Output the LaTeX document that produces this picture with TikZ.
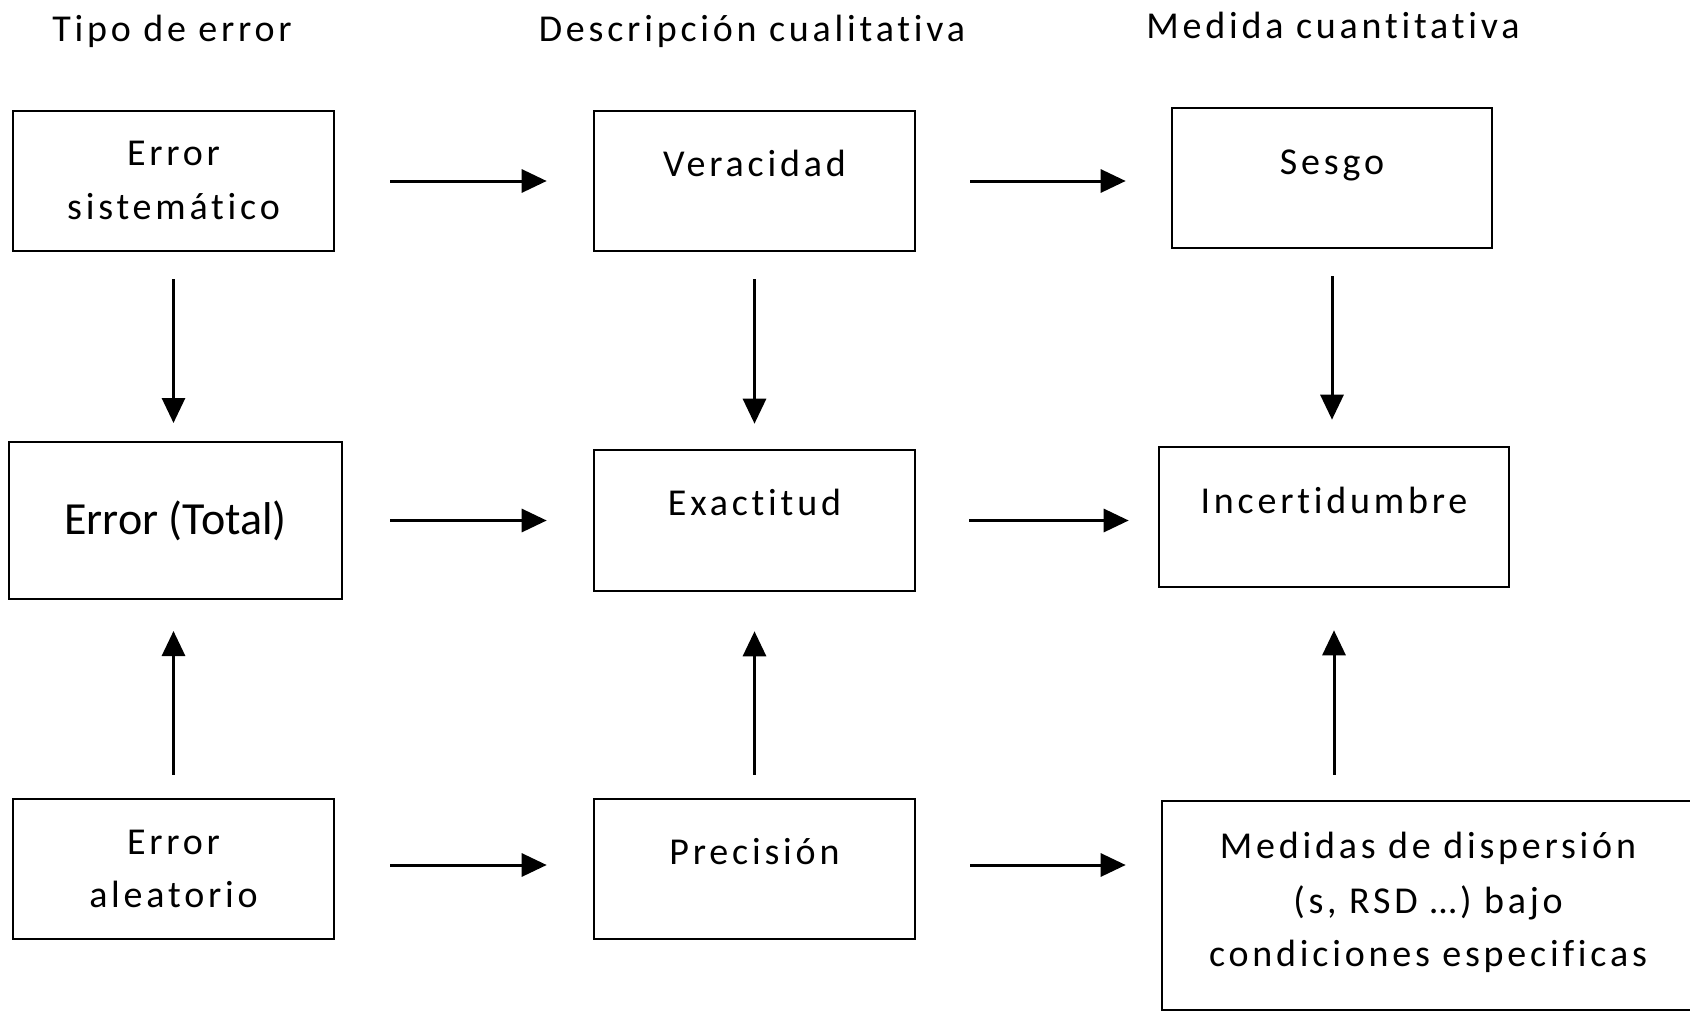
\documentclass[tikz,border=0pt]{standalone}
\usepackage{fontspec}
\setmainfont{Carlito}
\newfontfamily\pixfont[LetterSpace=10,Ligatures={NoCommon,NoRare,NoContextual}]{Carlito}
\usetikzlibrary{arrows.meta}
\begin{document}
\begin{tikzpicture}[x=1pt,y=-1pt,
  box/.style={draw=black,line width=2.6pt,minimum width=321pt,minimum height=140pt,inner sep=0pt},
  lbl/.style={anchor=base,inner sep=0pt,font=\pixfont\fontsize{38}{44}\selectfont},
  arr/.style={line width=3pt,-{Triangle[length=25pt,width=23pt]}}]
\clip (0,0) rectangle (1690,1012);
\fill[white] (0,0) rectangle (1690,1012);
% titles
\node[lbl] (t1) at (172,41) {Tipo de error};
\node[lbl] (t2) at (752,41) {Descripción cualitativa};
\node[lbl] (t3) at (1333,38) {Medida cuantitativa};
% boxes
\node[box] (es) at (173.5,181) {};
\node[box] (ver) at (754.5,181) {};
\node[box,minimum width=320pt] (ses) at (1332,178) {};
\node[box,line width=2pt,minimum width=333pt,minimum height=157pt,font=\fontsize{46}{50}\selectfont] (et) at (175.5,520.5) {Error (Total)};
\node[box,minimum height=141pt] (exa) at (754.5,520.5) {};
\node[box,minimum width=350pt] (inc) at (1334,517) {};
\node[box] (ea) at (173.5,869) {};
\node[box] (pre) at (754.5,869) {};
\node[box,minimum width=538pt,minimum height=209pt] (med) at (1431,905.5) {};
% texts
\node[lbl] (es1) at (173.5,165) {Error};
\node[lbl] (es2) at (173.5,219) {sistemático};
\node[lbl] (verl) at (754.5,176) {Veracidad};
\node[lbl] (sesl) at (1332,174) {Sesgo};
\node[lbl] (exal) at (754.5,515) {Exactitud};
\node[lbl] (incl) at (1334,513) {Incertidumbre};
\node[lbl] (ea1) at (173.5,854) {Error};
\node[lbl] (ea2) at (173.5,907) {aleatorio};
\node[lbl] (prel) at (754.5,864) {Precisión};
\node[lbl] (med1) at (1428,858) {Medidas de dispersión};
\node[lbl] (med2) at (1428,913) {(s, RSD …) bajo};
\node[lbl] (med3) at (1428,966) {condiciones especificas};
% horizontal arrows
\draw[arr] ([xshift=55pt]es.east) -- ([xshift=-46pt]ver.west);
\draw[arr] ([xshift=54pt]ver.east) -- ([xshift=-45pt]ver.east -| ses.west);
\draw[arr] ([xshift=47pt]et.east) -- ([xshift=-46pt]et.east -| exa.west);
\draw[arr] ([xshift=53pt]exa.east) -- ([xshift=-29pt]exa.east -| inc.west);
\draw[arr] ([xshift=55pt,yshift=4pt]ea.east) -- ([xshift=-46pt,yshift=4pt]pre.west);
\draw[arr] ([xshift=54pt,yshift=4pt]pre.east) -- ([xshift=-35pt,yshift=4pt]pre.east -| med.west);
% vertical arrows
\draw[arr] ([yshift=-27pt]es.south) -- ([yshift=18pt]es.south |- et.north);
\draw[arr] ([yshift=-27pt]ver.south) -- ([yshift=25pt]exa.north);
\draw[arr] ([yshift=-27pt]ses.south) -- ([yshift=26pt]ses.south |- inc.north);
\draw[arr] ([yshift=23pt]ea.north) -- ([yshift=-31pt]ea.north |- et.south);
\draw[arr] ([yshift=23pt]pre.north) -- ([yshift=-39pt]exa.south);
\draw[arr] ([yshift=25pt]inc.south |- med.north) -- ([yshift=-42pt]inc.south);
\end{tikzpicture}
\end{document}
